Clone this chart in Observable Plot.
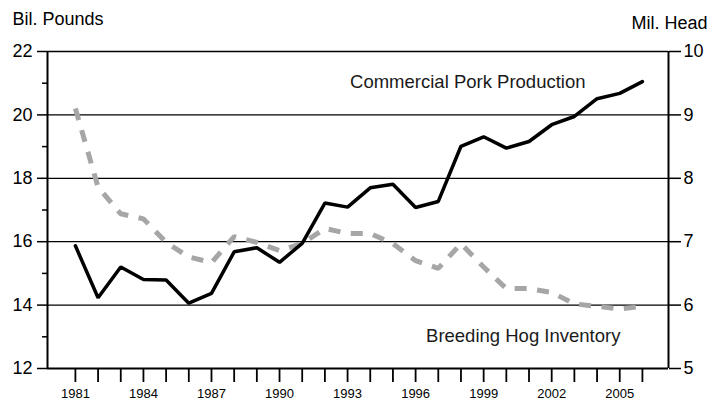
<!DOCTYPE html>
<html>
<head>
<meta charset="utf-8">
<script src="https://cdn.jsdelivr.net/npm/d3@7"></script>
<script src="https://cdn.jsdelivr.net/npm/@observablehq/plot@0.6"></script>
<style>
  html, body { margin: 0; padding: 0; background: #fff; }
  #chart svg { display: block; }
</style>
</head>
<body>
<div id="chart"></div>
<script>
// ---- Data ----
const years = [1981,1982,1983,1984,1985,1986,1987,1988,1989,1990,1991,1992,1993,
               1994,1995,1996,1997,1998,1999,2000,2001,2002,2003,2004,2005,2006];
// Commercial pork production, billion pounds (left axis)
const porkProduction = [15.87,14.23,15.20,14.81,14.79,14.06,14.37,15.68,15.81,15.35,15.95,17.22,17.09,
                        17.70,17.81,17.08,17.27,19.01,19.31,18.95,19.16,19.69,19.95,20.51,20.68,21.05];
// Breeding hog inventory, million head (right axis)
const breedingInventory = [9.10,7.86,7.44,7.36,6.99,6.76,6.67,7.08,6.99,6.86,6.97,7.21,7.13,
                           7.13,6.97,6.70,6.58,6.97,6.60,6.26,6.26,6.20,6.02,5.98,5.94,5.98];
const leftTicks = [12,14,16,18,20,22];
const leftMinorTicks = [13,15,17,19,21];
const yearLabels = [1981,1984,1987,1990,1993,1996,1999,2002,2005];
const seriesLabels = ["Commercial Pork Production", "Breeding Hog Inventory"];
const axisTitles = ["Bil. Pounds", "Mil. Head"];
const xDomain = [1979.77, 2007.15];
const yDomain = [12, 22];

// Right axis (Mil. Head, 5–10) shares the left scale (12–22)
const toLeft = v => 12 + (v - 5) * 2;
const toRight = y => (y - 12) / 2 + 5;

const pork = years.map((year, i) => ({year, value: porkProduction[i]}));
const breeding = years.map((year, i) => ({year, value: toLeft(breedingInventory[i])}));

const font = "'Liberation Sans', Arial, Helvetica, sans-serif";

const chart = Plot.plot({
  width: 707,
  height: 401,
  marginLeft: 47,
  marginRight: 39,
  marginTop: 51,
  marginBottom: 33,
  style: {fontFamily: font, background: "white", color: "black", overflow: "visible"},
  x: {domain: xDomain, label: null},
  y: {domain: yDomain, label: null},
  marks: [
    // horizontal gridlines
    Plot.ruleY(leftTicks.filter(d => d !== yDomain[0]), {stroke: "black", strokeWidth: 1.3}),
    // axis lines
    Plot.ruleX(xDomain, {stroke: "black", strokeWidth: 2}),
    Plot.ruleY([yDomain[0]], {stroke: "black", strokeWidth: 2}),
    // left axis
    Plot.axisY({anchor: "left", ticks: leftTicks, tickSize: 10, tickPadding: 5, fontSize: 18,
                strokeWidth: 1.5, label: null}),
    Plot.axisY({anchor: "left", ticks: leftMinorTicks, tickSize: 5, tickFormat: () => "",
                strokeWidth: 1.5, label: null}),
    // right axis
    Plot.axisY({anchor: "right", ticks: leftTicks, tickSize: 12, tickPadding: 3, fontSize: 18,
                tickFormat: d => String(toRight(d)), strokeWidth: 1.5, label: null}),
    // bottom axis
    Plot.axisX({ticks: years, tickSize: 14, tickPadding: 6, fontSize: 13, strokeWidth: 1.8,
                tickFormat: d => yearLabels.includes(d) ? String(d) : "", label: null}),
    // series
    Plot.line(breeding, {x: "year", y: "value", stroke: "#a6a6a6", strokeWidth: 5,
                         strokeDasharray: "12,10.5", strokeLinecap: "butt", strokeLinejoin: "miter"}),
    Plot.line(pork, {x: "year", y: "value", stroke: "black", strokeWidth: 3.5,
                     strokeLinejoin: "miter"}),
    // series labels
    Plot.text([seriesLabels[0]], {x: 1993.11, y: 21.02, text: d => d, textAnchor: "start",
                                  fontSize: 18.5, fill: "#1a1a1a"}),
    Plot.text([seriesLabels[1]], {x: 1996.46, y: 13.01, text: d => d, textAnchor: "start",
                                  fontSize: 18.5, fill: "#1a1a1a"}),
    // axis titles
    Plot.text([axisTitles[0]], {frameAnchor: "top-left", text: d => d, textAnchor: "start",
                                lineAnchor: "bottom", dx: -35, dy: -27, fontSize: 18}),
    Plot.text([axisTitles[1]], {frameAnchor: "top-right", text: d => d, textAnchor: "end",
                                lineAnchor: "bottom", dx: 39, dy: -23, fontSize: 18})
  ]
});

document.getElementById("chart").append(chart);
</script>
</body>
</html>
